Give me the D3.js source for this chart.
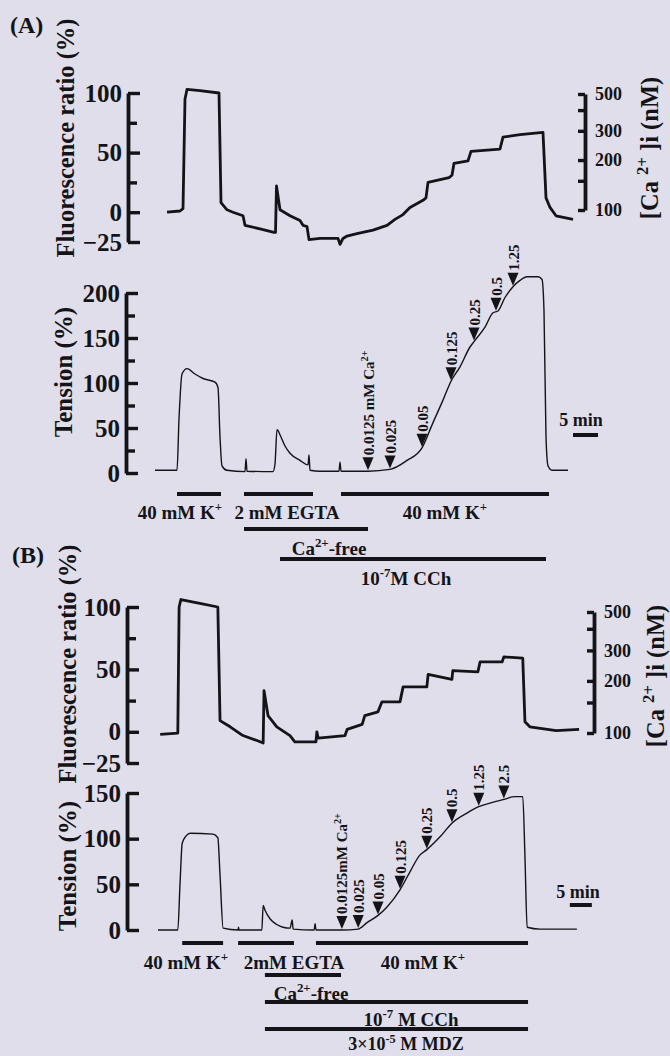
<!DOCTYPE html>
<html><head><meta charset="utf-8">
<script src="https://cdn.jsdelivr.net/npm/d3@7"></script>
<style>
html,body{margin:0;padding:0;background:#dfdeea;}
svg{display:block;}
text{font-family:"Liberation Serif","Times New Roman",serif;font-weight:bold;fill:#141418;}
</style></head><body>
<svg id="c" width="670" height="1056"></svg>
<script>
// ---------------- DATA ----------------
// Panel A: fluorescence ratio (%) vs time (min)
const fluoA_t = [2.4,5.0,5.6,6.0,6.4,9.0,12.8,13.2,14.4,15.6,17.6,18.0,21.0,23.8,24.1,24.3,25.0,27.0,29.0,29.6,30.4,30.8,33.0,36.6,37.0,37.6,38.4,40.4,43.6,46.4,48.0,49.6,51.0,53.6,54.2,54.6,58.8,59.4,59.8,62.6,63.2,69.0,69.6,73.0,77.6,78.2,79.0,80.2,83.6];
const fluoA_v = [0,1,3,95,103,102,100,8,2,0,-3,-11,-14,-17,-17,22,2,-3,-7,-11,-12,-23,-22,-22,-27,-22,-20,-18,-15,-11,-6,-2,4,10,12,25,29,31,41,43,51,53,63,65,67,12,4,-3,-6];
// Panel A: tension (%)
const tenA_t = [0,4.4,4.8,5.4,6.4,8.0,9.6,12.0,12.6,13.0,13.4,14.4,18.0,18.2,18.4,23.6,24.0,24.4,25.2,26.0,27.0,29.0,30.6,30.8,31.0,33.0,36.8,37.0,37.2,42.6,47.0,50.4,53.4,55.6,57.6,59.2,61.0,63.0,63.8,66.0,67.6,68.6,70.0,71.6,73.0,74.4,76.6,77.4,77.8,78.2,78.6,79.4,82.6];
const tenA_v = [3,3,60,110,116,110,105,101,95,40,8,3,1.5,16,2,1.5,10,48,40,30,22,14,9,20,3,2,2,12,2,2,4,14,28,56,81,102,118,140,146,162,178,180,195,207,214,218,218,215,180,40,8,3,3];
const arrowsA_t = [42.6,47.0,53.4,59.2,63.8,68.2,71.6];
const arrowsA_lab = ["0.0125 mM Ca{2+}","0.025","0.05","0.125","0.25","0.5","1.25"];
const barsA_start = [4.4,17.8,37.2,17.8,25.0];
const barsA_end   = [13.2,31.6,78.8,42.6,78.2];
const barsA_lab   = ["40 mM K{+}","2 mM EGTA","40 mM K{+}","Ca{2+}-free","10{-7}M CCh"];

// Panel B
const fluoB_t = [0.5,4.5,4.8,5.2,9.5,13.6,14.1,16.4,19.3,22.5,23.9,24.1,25.0,27.0,30.0,31.1,35.2,35.9,36.1,36.4,42.5,43.0,46.4,47.0,50.0,50.9,55.0,55.7,61.1,61.4,66.8,67.0,72.7,73.2,78.2,78.6,82.9,83.4,84.5,90.5,95.7];
const fluoB_v = [-2,-1,100,106,103,100,9,4,-3,-7,-9,33,13,4,-3,-8,-8,-8,0,-5,-3,2,6,13,16,24,24,36,36,46,42,49,48,56,56,60,59,8,4,1,2];
const tenB_t = [0,4.5,5.0,5.5,6.4,7.3,12.5,13.6,14.1,14.8,18.2,18.3,18.4,23.6,23.9,24.3,25.5,27.0,28.4,30.0,30.5,30.7,35.5,35.7,35.9,41.8,45.5,47.5,50.0,52.0,55.0,57.3,59.5,61.1,64.1,66.8,70.2,72.9,75.5,78.6,81.1,82.9,83.4,83.9,86.8,95.2];
const tenB_v = [0,0,50,95,103,106,105,101,60,2,0,3,0,0,27,22,12,6,3,2,11,1,0,7,0,0,1,8,16,25,44,64,82,88,102,117,128,135,139,143,146,146,80,3,1,1];
const arrowsB_t = [41.8,45.5,50.0,55.0,61.1,66.8,72.9,78.6];
const arrowsB_lab = ["0.0125mM Ca{2+}","0.025","0.05","0.125","0.25","0.5","1.25","2.5"];
const barsB_start = [5.5,18.2,35.9,24.3,24.3,24.3];
const barsB_end   = [14.8,30.9,84.1,41.6,84.1,84.1];
const barsB_lab   = ["40 mM K{+}","2mM EGTA","40 mM K{+}","Ca{2+}-free","10{-7} M CCh","3×10{-5} M MDZ"];

// axis ticks
const fluoMajor = [-25,0,50,100], fluoMinor = [25,75];
const tenAMajor = [0,50,100,150,200], tenAMinor = [25,75,125,175];
const tenBMajor = [0,50,100,150];
const caTicks = [100,150,200,300,400,500], caLabels = [100,200,300,500];

// ---------------- DRAW ----------------
const svg = d3.select('#c');
const ink = '#141418';

function rich(sel, str, fs){
  const parts = str.split(/(\{[^}]*\})/).filter(s => s.length);
  let up = false;
  parts.forEach(p => {
    if (p[0] === '{') {
      sel.append('tspan').attr('font-size', fs*0.68).attr('dy', -fs*0.4).text(p.slice(1,-1));
      up = true;
    } else {
      const ts = sel.append('tspan').attr('font-size', fs).text(p);
      if (up) { ts.attr('dy', fs*0.4); up = false; }
    }
  });
}

function leftAxis(y, x, major, minor, fs){
  const g = svg.append('g').attr('transform', `translate(${x},0)`)
    .call(d3.axisRight(y).tickValues(major).tickSize(12).tickSizeOuter(0).tickFormat(d3.format('d')));
  g.select('.domain').attr('stroke', ink).attr('stroke-width', 3.8);
  g.selectAll('.tick line').attr('stroke', ink).attr('stroke-width', 3.4);
  g.selectAll('.tick text').attr('x', -6).attr('text-anchor', 'end').attr('font-size', fs).attr('fill', ink);
  if (minor.length){
    const g2 = svg.append('g').attr('transform', `translate(${x},0)`)
      .call(d3.axisRight(y).tickValues(minor).tickSize(9).tickSizeOuter(0).tickFormat(''));
    g2.select('.domain').remove();
    g2.selectAll('.tick line').attr('stroke', ink).attr('stroke-width', 3.4);
  }
}
function rightAxis(y, x){
  const g = svg.append('g').attr('transform', `translate(${x},0)`)
    .call(d3.axisLeft(y).tickValues(caTicks).tickSize(7).tickSizeOuter(0)
      .tickFormat(d => caLabels.includes(d) ? String(d) : ''));
  g.select('.domain').attr('stroke', ink).attr('stroke-width', 3.8);
  g.selectAll('.tick line').attr('stroke', ink).attr('stroke-width', 3.4);
  g.selectAll('.tick text').attr('x', 10).attr('text-anchor', 'start').attr('font-size', 18).attr('fill', ink);
}
function vlabel(str, x, y, fs){
  const t = svg.append('text').attr('transform', `translate(${x},${y}) rotate(-90)`)
    .attr('text-anchor', 'middle');
  rich(t, str, fs);
}
function interp(ts, vs, t){
  for (let i = 1; i < ts.length; i++){
    if (t <= ts[i]) { const f = (t - ts[i-1])/(ts[i]-ts[i-1]); return vs[i-1] + f*(vs[i]-vs[i-1]); }
  }
  return vs[vs.length-1];
}
function trace(ts, vs, x, y, w, curve){
  const line = d3.line().x(d => x(d[0])).y(d => y(d[1])).curve(curve);
  svg.append('path').datum(ts.map((t,i) => [t, vs[i]]))
    .attr('d', line).attr('fill', 'none').attr('stroke', ink)
    .attr('stroke-width', w).attr('stroke-linejoin', 'round');
}
function arrows(ts, labs, tt, tv, x, y){
  ts.forEach((t,i) => {
    const px = x(t), tip = y(interp(tt, tv, t)) - 1;
    svg.append('path').attr('d', `M${px-5.5},${tip-13}L${px+5.5},${tip-13}L${px},${tip}Z`).attr('fill', ink);
    const txt = svg.append('text').attr('transform', `translate(${px+5.5},${tip-15}) rotate(-90)`).attr('text-anchor', 'start');
    rich(txt, labs[i], 15);
  });
}
function bar(x, t0, t1, yy){
  svg.append('line').attr('x1', x(t0)).attr('x2', x(t1)).attr('y1', yy).attr('y2', yy)
    .attr('stroke', ink).attr('stroke-width', 4);
}
function label(str, px, yy, fs){
  const t = svg.append('text').attr('x', px).attr('y', yy).attr('text-anchor', 'middle');
  rich(t, str, fs);
}

// ----- Panel A -----
const xA = d3.scaleLinear().domain([0,100]).range([155,655]);
const yFA = d3.scaleLinear().domain([-25,100]).range([242,93]);
const yCaA = d3.scaleLog().domain([100,500]).range([210,94]);
const yTA = d3.scaleLinear().domain([0,200]).range([473,293]);

svg.append('text').attr('x', 10).attr('y', 33).attr('font-size', 24).text('(A)');
leftAxis(yFA, 128, fluoMajor, fluoMinor, 25);
rightAxis(yCaA, 585);
leftAxis(yTA, 126, tenAMajor, tenAMinor, 25);
vlabel('Fluorescence ratio (%)', 74, 138, 24.5);
vlabel('[Ca {2+} ]i (nM)', 658, 148, 24.5);
vlabel('Tension (%)', 72, 372, 25);
trace(fluoA_t, fluoA_v, xA, yFA, 2.8, d3.curveLinear);
trace(tenA_t, tenA_v, xA, yTA, 1.4, d3.curveMonotoneX);
arrows(arrowsA_t, arrowsA_lab, tenA_t, tenA_v, xA, yTA);
// scale bar
bar(xA, 83.6, 88.6, 435);
label('5 min', 581, 426, 18);
// treatment bars
const barYA = [494,494,494,529,559], labYA = [519,519,519,555,585];
const labXA = [180,287,445,329,406];
barsA_start.forEach((s,i) => { bar(xA, s, barsA_end[i], barYA[i]); label(barsA_lab[i], labXA[i], labYA[i], 19); });

// ----- Panel B -----
const xB = d3.scaleLinear().domain([0,100]).range([158,598]);
const yFB = d3.scaleLinear().domain([-25,100]).range([763,607]);
const yCaB = d3.scaleLog().domain([100,500]).range([733,612]);
const yTB = d3.scaleLinear().domain([0,150]).range([930,793]);

svg.append('text').attr('x', 12).attr('y', 563).attr('font-size', 24).text('(B)');
leftAxis(yFB, 127, fluoMajor, fluoMinor, 25);
rightAxis(yCaB, 594);
leftAxis(yTB, 127, tenBMajor, [], 25);
vlabel('Fluorescence ratio (%)', 76, 664, 24.5);
vlabel('[Ca {2+} ]i (nM)', 664, 676, 24.5);
vlabel('Tension (%)', 76, 866, 25);
trace(fluoB_t, fluoB_v, xB, yFB, 2.8, d3.curveLinear);
trace(tenB_t, tenB_v, xB, yTB, 1.4, d3.curveMonotoneX);
arrows(arrowsB_t, arrowsB_lab, tenB_t, tenB_v, xB, yTB);
bar(xB, 93.6, 98.6, 905);
label('5 min', 578, 898, 18);
const barYB = [943,943,943,975,1002,1029], labYB = [969,969,969,1000,1026,1050];
const labXB = [186,294,423,311,411,406];
barsB_start.forEach((s,i) => { bar(xB, s, barsB_end[i], barYB[i]); label(barsB_lab[i], labXB[i], labYB[i], i === 5 ? 18 : 19); });
</script>
</body></html>
